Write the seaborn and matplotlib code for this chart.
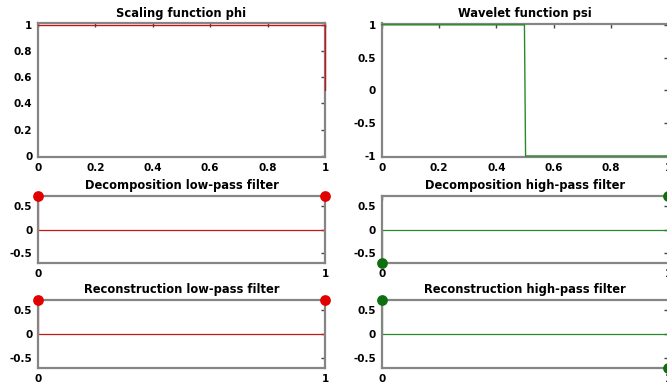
import numpy as np
import pandas as pd
import matplotlib
matplotlib.use("Agg")
import matplotlib.pyplot as plt
import seaborn as sns

sns.set_theme(style="white")
plt.rcParams["font.family"] = ["DejaVu Sans"]
plt.rcParams["font.weight"] = "bold"
plt.rcParams["text.color"] = "black"

# Haar scaling function (sampled) and wavelet function
phi_x = [0.0, 1.0, 1.0]
phi_y = [1.0, 1.0, 0.5]
psi_x = [0.0, 0.498, 0.5, 0.502, 1.0, 1.0]
psi_y = [1.0, 1.0, 0.0, -1.0, -1.0, -0.5]

# Haar filter taps
taps = [0, 1]
lo_d = [0.7071, 0.7071]
hi_d = [-0.7071, 0.7071]
lo_r = [0.7071, 0.7071]
hi_r = [0.7071, -0.7071]

RED_LINE = "#c01818"
RED_DOT = "#e00000"
GREEN_LINE = "#2a8a2a"
GREEN_DOT = "#0f6e0f"
SPINE = "#858585"

W, H = 667, 383
fig = plt.figure(figsize=(W / 100, H / 100), dpi=100)
fig.patch.set_facecolor("white")


def px_axes(x0, x1, ytop, ybot):
    return fig.add_axes([x0 / W, 1 - ybot / H, (x1 - x0) / W, (ybot - ytop) / H])


def style(ax, title, pad):
    ax.set_facecolor("white")
    for s in ax.spines.values():
        s.set_visible(True)
        s.set_color(SPINE)
        s.set_linewidth(1.6)
        s.set_zorder(2)
    ax.tick_params(direction="in", length=3, width=1, color="#444444",
                   top=True, right=True, labelsize=7.5, pad=4,
                   labelcolor="black")
    for lab in ax.get_xticklabels() + ax.get_yticklabels():
        lab.set_fontweight("bold")
    ax.set_title(title, fontsize=8.3, fontweight="bold", pad=pad, color="black")
    ax.set_xlabel("")
    ax.set_ylabel("")
    ax.grid(False)


def fmt(v):
    return f"{v:g}"


# Scaling function
ax = px_axes(38, 325, 23.5, 157)
sns.lineplot(x=phi_x, y=phi_y, sort=False, estimator=None, ax=ax,
             color=RED_LINE, linewidth=1.0, zorder=4, clip_on=False)
ax.set_xlim(0, 1)
ax.set_ylim(-0.01, 1.01)
xt = [0, 0.2, 0.4, 0.6, 0.8, 1]
yt = [0, 0.2, 0.4, 0.6, 0.8, 1]
ax.set_xticks(xt, [fmt(v) for v in xt])
ax.set_yticks(yt, [fmt(v) for v in yt])
style(ax, "Scaling function phi", 5.0)

# Wavelet function
ax = px_axes(381.7, 668.3, 23.5, 157.3)
sns.lineplot(x=psi_x, y=psi_y, sort=False, estimator=None, ax=ax,
             color=GREEN_LINE, linewidth=1.0, zorder=4, clip_on=False)
ax.set_xlim(0, 1)
ax.set_ylim(-1.02, 1.02)
yt2 = [-1, -0.5, 0, 0.5, 1]
ax.set_xticks(xt, [fmt(v) for v in xt])
ax.set_yticks(yt2, [fmt(v) for v in yt2])
style(ax, "Wavelet function psi", 5.0)


def filter_panel(x0, x1, ytop, ybot, vals, title, line_c, dot_c):
    ax = px_axes(x0, x1, ytop, ybot)
    ax.axhline(0, color=line_c, linewidth=0.9, zorder=1)
    ax.vlines(taps, 0, vals, color=line_c, linewidth=0.9, zorder=1)
    df = pd.DataFrame({"n": taps, "h": vals})
    sns.scatterplot(data=df, x="n", y="h", ax=ax, color=dot_c, s=60,
                    edgecolor=dot_c, linewidth=0, clip_on=False, zorder=5)
    ax.set_xlim(0, 1)
    ax.set_ylim(-0.7071, 0.7071)
    ax.set_xticks([0, 1], ["0", "1"])
    ax.set_yticks([-0.5, 0, 0.5], ["-0.5", "0", "0.5"])
    style(ax, title, 4.7)
    return ax


filter_panel(38, 325, 195.7, 263.3, lo_d, "Decomposition low-pass filter",
             RED_LINE, RED_DOT)
filter_panel(381.7, 668.3, 195.7, 263.3, hi_d, "Decomposition high-pass filter",
             GREEN_LINE, GREEN_DOT)
filter_panel(38, 325, 300, 368.3, lo_r, "Reconstruction low-pass filter",
             RED_LINE, RED_DOT)
filter_panel(381.7, 668.3, 300, 368.3, hi_r, "Reconstruction high-pass filter",
             GREEN_LINE, GREEN_DOT)

fig.savefig("out.png", dpi=100)
